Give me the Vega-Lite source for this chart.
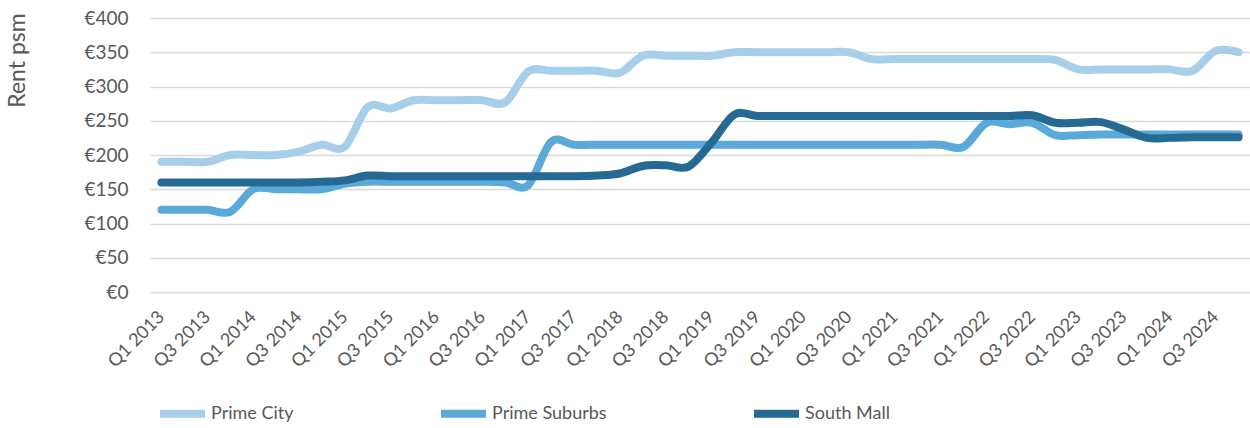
{
  "$schema": "https://vega.github.io/schema/vega-lite/v6.json",
  "width": 1100,
  "height": 274,
  "autosize": {"type": "none"},
  "padding": {"left": 150, "top": 18, "right": 0, "bottom": 136},
  "background": "white",
  "config": {"view": {"stroke": null}, "font": "Lato"},
  "data": {
    "values": [
      {"q": "Q1 2013", "Prime City": 190, "Prime Suburbs": 120, "South Mall": 160},
      {"q": "Q2 2013", "Prime City": 190, "Prime Suburbs": 120, "South Mall": 160},
      {"q": "Q3 2013", "Prime City": 190, "Prime Suburbs": 120, "South Mall": 160},
      {"q": "Q4 2013", "Prime City": 200, "Prime Suburbs": 117, "South Mall": 160},
      {"q": "Q1 2014", "Prime City": 200, "Prime Suburbs": 150, "South Mall": 160},
      {"q": "Q2 2014", "Prime City": 200, "Prime Suburbs": 150, "South Mall": 160},
      {"q": "Q3 2014", "Prime City": 205, "Prime Suburbs": 150, "South Mall": 160},
      {"q": "Q4 2014", "Prime City": 215, "Prime Suburbs": 150, "South Mall": 161},
      {"q": "Q1 2015", "Prime City": 212, "Prime Suburbs": 158, "South Mall": 163},
      {"q": "Q2 2015", "Prime City": 270, "Prime Suburbs": 161, "South Mall": 170},
      {"q": "Q3 2015", "Prime City": 268, "Prime Suburbs": 161, "South Mall": 169},
      {"q": "Q4 2015", "Prime City": 280, "Prime Suburbs": 161, "South Mall": 169},
      {"q": "Q1 2016", "Prime City": 280, "Prime Suburbs": 161, "South Mall": 169},
      {"q": "Q2 2016", "Prime City": 280, "Prime Suburbs": 161, "South Mall": 169},
      {"q": "Q3 2016", "Prime City": 280, "Prime Suburbs": 161, "South Mall": 169},
      {"q": "Q4 2016", "Prime City": 277, "Prime Suburbs": 160, "South Mall": 169},
      {"q": "Q1 2017", "Prime City": 322, "Prime Suburbs": 156, "South Mall": 169},
      {"q": "Q2 2017", "Prime City": 323, "Prime Suburbs": 219, "South Mall": 169},
      {"q": "Q3 2017", "Prime City": 323, "Prime Suburbs": 215, "South Mall": 169},
      {"q": "Q4 2017", "Prime City": 323, "Prime Suburbs": 215, "South Mall": 170},
      {"q": "Q1 2018", "Prime City": 320, "Prime Suburbs": 215, "South Mall": 173},
      {"q": "Q2 2018", "Prime City": 345, "Prime Suburbs": 215, "South Mall": 184},
      {"q": "Q3 2018", "Prime City": 345, "Prime Suburbs": 215, "South Mall": 185},
      {"q": "Q4 2018", "Prime City": 345, "Prime Suburbs": 215, "South Mall": 183},
      {"q": "Q1 2019", "Prime City": 345, "Prime Suburbs": 215, "South Mall": 218},
      {"q": "Q2 2019", "Prime City": 350, "Prime Suburbs": 215, "South Mall": 259},
      {"q": "Q3 2019", "Prime City": 350, "Prime Suburbs": 215, "South Mall": 257},
      {"q": "Q4 2019", "Prime City": 350, "Prime Suburbs": 215, "South Mall": 257},
      {"q": "Q1 2020", "Prime City": 350, "Prime Suburbs": 215, "South Mall": 257},
      {"q": "Q2 2020", "Prime City": 350, "Prime Suburbs": 215, "South Mall": 257},
      {"q": "Q3 2020", "Prime City": 350, "Prime Suburbs": 215, "South Mall": 257},
      {"q": "Q4 2020", "Prime City": 340, "Prime Suburbs": 215, "South Mall": 257},
      {"q": "Q1 2021", "Prime City": 340, "Prime Suburbs": 215, "South Mall": 257},
      {"q": "Q2 2021", "Prime City": 340, "Prime Suburbs": 215, "South Mall": 257},
      {"q": "Q3 2021", "Prime City": 340, "Prime Suburbs": 215, "South Mall": 257},
      {"q": "Q4 2021", "Prime City": 340, "Prime Suburbs": 212, "South Mall": 257},
      {"q": "Q1 2022", "Prime City": 340, "Prime Suburbs": 247, "South Mall": 257},
      {"q": "Q2 2022", "Prime City": 340, "Prime Suburbs": 245, "South Mall": 257},
      {"q": "Q3 2022", "Prime City": 340, "Prime Suburbs": 247, "South Mall": 258},
      {"q": "Q4 2022", "Prime City": 339, "Prime Suburbs": 229, "South Mall": 247},
      {"q": "Q1 2023", "Prime City": 325, "Prime Suburbs": 229, "South Mall": 247},
      {"q": "Q2 2023", "Prime City": 325, "Prime Suburbs": 230, "South Mall": 248},
      {"q": "Q3 2023", "Prime City": 325, "Prime Suburbs": 230, "South Mall": 237},
      {"q": "Q4 2023", "Prime City": 325, "Prime Suburbs": 230, "South Mall": 225},
      {"q": "Q1 2024", "Prime City": 325, "Prime Suburbs": 230, "South Mall": 225},
      {"q": "Q2 2024", "Prime City": 323, "Prime Suburbs": 230, "South Mall": 226},
      {"q": "Q3 2024", "Prime City": 352, "Prime Suburbs": 230, "South Mall": 226},
      {"q": "Q4 2024", "Prime City": 350, "Prime Suburbs": 230, "South Mall": 226}
    ]
  },
  "transform": [
    {"fold": ["Prime City", "Prime Suburbs", "South Mall"], "as": ["series", "rent"]}
  ],
  "mark": {"type": "line", "interpolate": "cardinal", "strokeWidth": 8, "strokeCap": "round", "strokeJoin": "round"},
  "encoding": {
    "x": {
      "field": "q",
      "type": "ordinal",
      "sort": null,
      "scale": {"padding": 0.5},
      "axis": {
        "title": null,
        "domain": false,
        "ticks": false,
        "grid": false,
        "labelAngle": -45,
        "labelAlign": "right",
        "labelBaseline": "middle",
        "labelFontSize": 18,
        "labelColor": "#595959",
        "labelPadding": 22,
        "values": ["Q1 2013", "Q3 2013", "Q1 2014", "Q3 2014", "Q1 2015", "Q3 2015", "Q1 2016", "Q3 2016", "Q1 2017", "Q3 2017", "Q1 2018", "Q3 2018", "Q1 2019", "Q3 2019", "Q1 2020", "Q3 2020", "Q1 2021", "Q3 2021", "Q1 2022", "Q3 2022", "Q1 2023", "Q3 2023", "Q1 2024", "Q3 2024"]
      }
    },
    "y": {
      "field": "rent",
      "type": "quantitative",
      "scale": {"domain": [0, 400]},
      "axis": {
        "values": [0, 50, 100, 150, 200, 250, 300, 350, 400],
        "labelExpr": "'€' + datum.value",
        "domain": false,
        "ticks": false,
        "grid": true,
        "gridColor": "#d9d9d9",
        "gridWidth": 1.5,
        "labelFontSize": 19,
        "labelColor": "#595959",
        "labelPadding": 22,
        "title": "Rent psm",
        "titleFontSize": 23,
        "titleFontWeight": "normal",
        "titleColor": "#595959",
        "titleAngle": -90,
        "titleX": -133,
        "titleY": 42,
        "titleAlign": "center",
        "titleBaseline": "middle"
      }
    },
    "color": {
      "field": "series",
      "type": "nominal",
      "scale": {
        "domain": ["Prime City", "Prime Suburbs", "South Mall"],
        "range": ["#a8cfea", "#5aa9d8", "#246a93"]
      },
      "legend": {
        "orient": "none",
        "legendX": 6,
        "legendY": 369,
        "direction": "horizontal",
        "title": null,
        "symbolType": "stroke",
        "symbolSize": 2025,
        "symbolStrokeWidth": 8,
        "labelFontSize": 18,
        "labelColor": "#595959",
        "labelOffset": 2,
        "columnPadding": 131
      }
    }
  }
}
